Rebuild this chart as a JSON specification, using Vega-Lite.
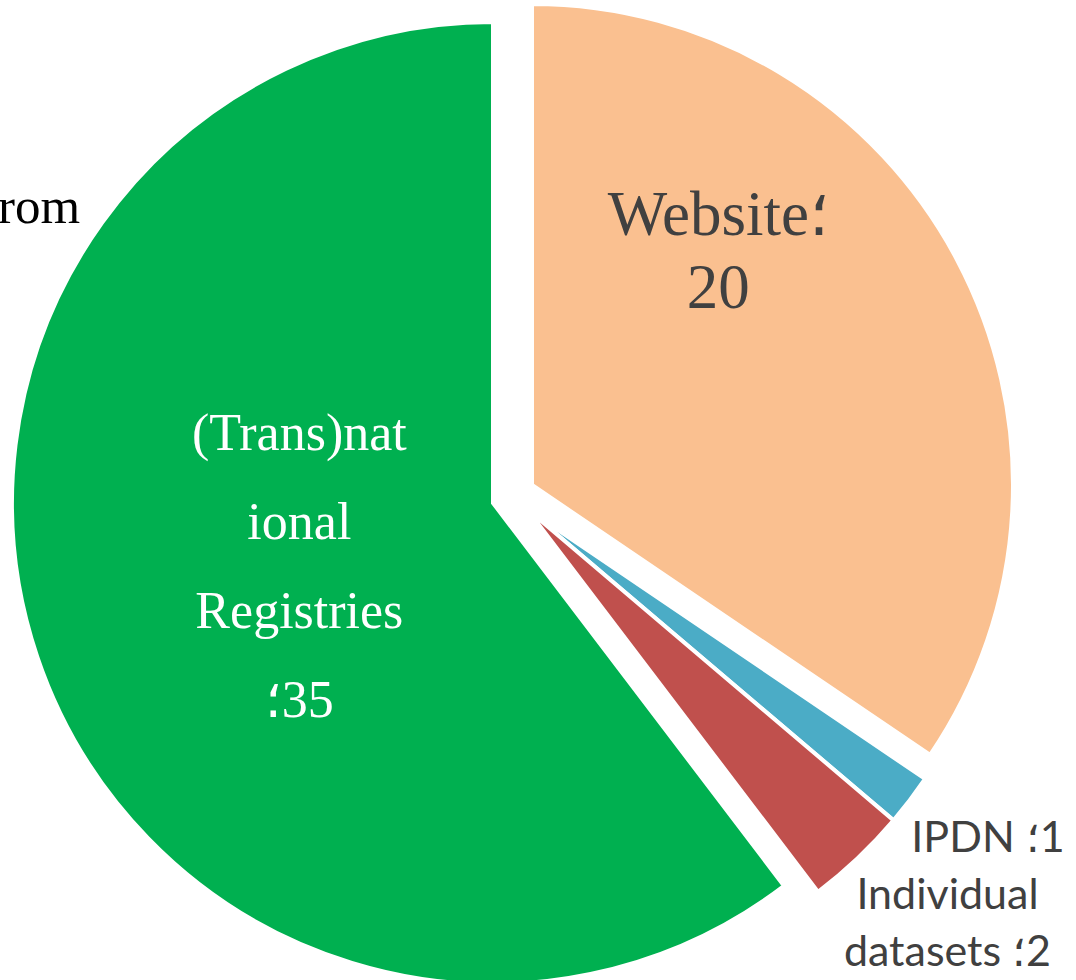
{
  "$schema": "https://vega.github.io/schema/vega-lite/v6.json",
  "width": 1054,
  "height": 1018,
  "autosize": "none",
  "padding": {"left": 0, "top": 0, "right": 22, "bottom": 0},
  "background": "white",
  "view": {"stroke": null},
  "title": {
    "text": "from",
    "anchor": "start",
    "orient": "top",
    "frame": "group",
    "font": "Liberation Serif",
    "fontSize": 51,
    "fontWeight": "normal",
    "color": "#000000",
    "baseline": "alphabetic",
    "offset": 0,
    "dx": -19,
    "dy": 278
  },
  "data": {
    "values": [
      {"category": "Websites", "order": 1, "value": 20, "label": "Website؛\n20"},
      {"category": "IPDN", "order": 2, "value": 1, "label": "IPDN ؛\u200E1"},
      {"category": "Individual datasets", "order": 3, "value": 2, "label": "Individual\ndatasets ؛\u200E2"},
      {"category": "(Trans)national Registries", "order": 4, "value": 35, "label": "(Trans)nat\nional\nRegistries\n؛\u200E35"}
    ]
  },
  "layer": [
    {
      "transform": [
        {"stack": "value", "groupby": [], "sort": [{"field": "order", "order": "ascending"}], "as": ["v0", "v1"]},
        {"filter": "datum.category === 'Websites'"}
      ],
      "mark": {"type": "arc", "radius": 481, "stroke": "white", "strokeWidth": 4, "xOffset": 5, "yOffset": -24},
      "encoding": {
        "theta": {"field": "v0", "type": "quantitative", "scale": {"domain": [0, 58]}},
        "theta2": {"field": "v1"},
        "color": {"field": "category", "type": "nominal", "legend": null,
          "scale": {"domain": ["Websites", "IPDN", "Individual datasets", "(Trans)national Registries"], "range": ["#FAC090", "#4BACC6", "#C0504D", "#00B050"]}}
      }
    },
    {
      "transform": [
        {"stack": "value", "groupby": [], "sort": [{"field": "order", "order": "ascending"}], "as": ["v0", "v1"]},
        {"filter": "datum.category === 'IPDN' || datum.category === 'Individual datasets'"}
      ],
      "mark": {"type": "arc", "radius": 481, "stroke": "white", "strokeWidth": 4},
      "encoding": {
        "theta": {"field": "v0", "type": "quantitative", "scale": {"domain": [0, 58]}},
        "theta2": {"field": "v1"},
        "color": {"field": "category", "type": "nominal", "legend": null}
      }
    },
    {
      "transform": [
        {"stack": "value", "groupby": [], "sort": [{"field": "order", "order": "ascending"}], "as": ["v0", "v1"]},
        {"filter": "datum.category === '(Trans)national Registries'"}
      ],
      "mark": {"type": "arc", "radius": 481, "stroke": "white", "strokeWidth": 4, "xOffset": -34, "yOffset": -6},
      "encoding": {
        "theta": {"field": "v0", "type": "quantitative", "scale": {"domain": [0, 58]}},
        "theta2": {"field": "v1"},
        "color": {"field": "category", "type": "nominal", "legend": null}
      }
    },
    {
      "mark": {"type": "text", "radius": 289, "dx": -64, "dy": -158, "font": "Liberation Serif", "fontSize": 63, "lineHeight": 73, "color": "#404040", "align": "center", "baseline": "middle", "lineBreak": "\n"},
      "encoding": {
        "theta": {"field": "value", "type": "quantitative", "stack": true, "scale": {"domain": [0, 58]}},
        "order": {"field": "order"},
        "detail": {"field": "category"},
        "text": {"condition": {"test": "datum.category === 'Websites'", "field": "label"}, "value": ""}
      }
    },
    {
      "mark": {"type": "text", "radius": 236, "dx": -4, "dy": -150, "font": "Liberation Serif", "fontSize": 52, "lineHeight": 89, "color": "#FFFFFF", "align": "center", "baseline": "middle", "lineBreak": "\n"},
      "encoding": {
        "theta": {"field": "value", "type": "quantitative", "stack": true, "scale": {"domain": [0, 58]}},
        "order": {"field": "order"},
        "detail": {"field": "category"},
        "text": {"condition": {"test": "datum.category === '(Trans)national Registries'", "field": "label"}, "value": ""}
      }
    },
    {
      "mark": {"type": "text", "radius": 564, "dx": 12, "dy": -11, "font": "Lato", "fontSize": 43, "color": "#404040", "align": "center", "baseline": "middle", "lineBreak": "\n"},
      "encoding": {
        "theta": {"field": "value", "type": "quantitative", "stack": true, "scale": {"domain": [0, 58]}},
        "order": {"field": "order"},
        "detail": {"field": "category"},
        "text": {"condition": {"test": "datum.category === 'IPDN'", "field": "label"}, "value": ""}
      }
    },
    {
      "mark": {"type": "text", "radius": 594, "dx": 12, "dy": -44, "font": "Lato", "fontSize": 43, "lineHeight": 57, "color": "#404040", "align": "center", "baseline": "middle", "lineBreak": "\n"},
      "encoding": {
        "theta": {"field": "value", "type": "quantitative", "stack": true, "scale": {"domain": [0, 58]}},
        "order": {"field": "order"},
        "detail": {"field": "category"},
        "text": {"condition": {"test": "datum.category === 'Individual datasets'", "field": "label"}, "value": ""}
      }
    }
  ]
}
